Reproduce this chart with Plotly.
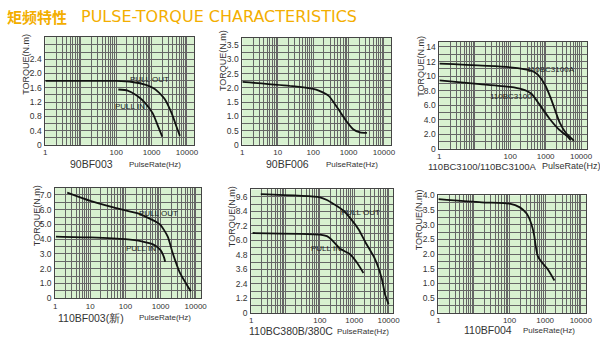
import math
import plotly.graph_objects as go

W, H = 600, 345

# ---------------- data ----------------
p1_out_x = [1, 100, 285, 690, 1260, 2320, 3700, 5000, 6300]
p1_out_y = [1.79, 1.79, 1.76, 1.68, 1.56, 1.29, 0.88, 0.52, 0.25]
p1_in_x = [115, 212, 382, 690, 1080, 1470, 2000]
p1_in_y = [1.55, 1.52, 1.38, 1.15, 0.88, 0.56, 0.23]

p2_x = [1, 26, 100, 144, 275, 490, 870, 1350, 2100, 3300]
p2_y = [2.21, 2.06, 1.96, 1.90, 1.72, 1.29, 0.83, 0.55, 0.44, 0.42]

p3_a_x = [1, 100, 390, 600, 930, 1360, 1850, 2500, 3700, 6300]
p3_a_y = [11.7, 11.2, 10.75, 10.2, 8.9, 7.1, 5.3, 3.6, 2.2, 1.1]
p3_b_x = [1, 14, 100, 210, 390, 690, 1260, 2320, 4300, 5000]
p3_b_y = [9.4, 8.9, 8.5, 8.2, 7.6, 6.0, 4.2, 2.7, 1.6, 1.2]

p4_out_x = [2.2, 10, 100, 215, 400, 740, 1000, 1600, 2200, 3500, 5700, 7200]
p4_out_y = [7.16, 6.6, 5.95, 5.77, 5.5, 5.18, 4.96, 4.18, 3.08, 1.76, 0.88, 0.48]
p4_in_x = [1.05, 10, 100, 290, 630, 1000, 1260, 1350]
p4_in_y = [4.18, 4.12, 4.0, 3.85, 3.63, 3.26, 2.75, 2.47]

p5_out_x = [1.9, 100, 160, 250, 470, 850, 1360, 2150, 4000, 6300, 7900, 10000]
p5_out_y = [9.81, 9.55, 9.33, 9.0, 8.48, 7.67, 6.87, 5.8, 4.47, 2.86, 1.52, 0.72]
p5_in_x = [1.1, 100, 160, 215, 400, 740, 1170, 1850]
p5_in_y = [6.6, 6.47, 6.34, 6.07, 5.27, 4.87, 4.2, 3.3]

p6_x = [1, 16.5, 100, 195, 305, 405, 490, 535, 620, 790, 1170, 1820]
p6_y = [3.87, 3.76, 3.72, 3.59, 3.37, 3.04, 2.65, 2.32, 1.93, 1.73, 1.49, 1.1]

# axis tick labels
p1_yticks = ["0", "0.4", "0.8", "1.2", "1.6", "2.0", "2.4"]
p2_yticks = ["0", "0.5", "1.0", "1.5", "2.0", "2.5", "3.0", "3.5"]
p3_yticks = ["0", "2.0", "4.0", "6.0", "8.0", "10", "12", "14"]
p4_yticks = ["0", "1.0", "2.0", "3.0", "4.0", "5.0", "6.0", "7.0"]
p5_yticks = ["0", "1.2", "2.4", "3.6", "4.8", "6.0", "7.2", "8.4", "9.6"]
p6_yticks = ["0", "0.5", "1.0", "1.5", "2.0", "2.5", "3.0", "3.5", "4.0"]
xt_a = ["1", "100", "1000", "10000"]
xt_b = ["1", "10", "100", "1000", "10000"]

titles = ["90BF003", "90BF006", "110BC3100/110BC3100A",
          "110BF003(新)", "110BC380B/380C", "110BF004"]

# ---------------- layout helpers ----------------
BG = "#d8f1d0"
GRID = "#666666"
TXT = "#333333"
FONT = "Arial, Liberation Sans, sans-serif"

# panels: (left, right, top, bottom) px, y max, y labels, grid lines per label, log x max, x labels
panels = [
    (44, 195, 33, 144, 3.02, p1_yticks, 2, 4.2, xt_a),
    (244, 395, 34, 144, 3.75, p2_yticks, 2, 4.2, xt_b),
    (444, 594, 38, 148, 14.7, p3_yticks, 2, 4.17, xt_a),
    (54, 202, 188, 302, 7.5, p4_yticks, 2, 4.15, xt_b),
    (253, 397, 190, 317, 10.2, p5_yticks, 2, 4.13, xt_a),
    (443, 593, 196, 317, 4.0, p6_yticks, 2, 4.15, xt_a),
]
# y-axis title centres (px)
ytitle_pos = [(25, 61), (225, 57), (426, 63), (35, 217), (233, 218), (423, 221)]

fig = go.Figure()
layout = dict(width=W, height=H, margin=dict(l=0, r=0, t=0, b=0),
              paper_bgcolor="white", plot_bgcolor=BG, showlegend=False,
              font=dict(family=FONT, color=TXT))
annotations = []

for i, (l, r, t, b, ymax, ylabels, sub, xmax, xlabels) in enumerate(panels):
    n = i + 1
    xa = "xaxis" if n == 1 else f"xaxis{n}"
    ya = "yaxis" if n == 1 else f"yaxis{n}"
    xr = "x" if n == 1 else f"x{n}"
    yr = "y" if n == 1 else f"y{n}"
    xv, xtxt = [], []
    for k in range(0, 5):
        for m in range(1, 10):
            v = m * 10 ** k
            if v > 10 ** xmax:
                break
            xv.append(v)
            xtxt.append(str(v) if (m == 1 and str(v) in xlabels) else "")
    step = float(ylabels[1])
    yv, ytxt = [], []
    nlab = len(ylabels)
    j = 0
    while True:
        v = round(j * step / sub, 6)
        if v > ymax + 1e-9:
            break
        yv.append(v)
        ytxt.append(ylabels[j // sub] if (j % sub == 0 and j // sub < nlab) else "")
        j += 1
    layout[xa] = dict(type="log", range=[0, xmax],
                      domain=[l / W, r / W], anchor=yr,
                      tickmode="array", tickvals=xv, ticktext=xtxt,
                      showgrid=True, gridcolor=GRID, gridwidth=1,
                      showline=True, linecolor="#444", mirror=True, linewidth=1,
                      ticks="", tickfont=dict(size=8, color=TXT), zeroline=False,
                      ticklabelstandoff=0)
    layout[ya] = dict(range=[0, ymax], domain=[1 - b / H, 1 - t / H], anchor=xr,
                      tickmode="array", tickvals=yv, ticktext=ytxt,
                      showgrid=True, gridcolor=GRID, gridwidth=1,
                      showline=True, linecolor="#444", mirror=True, linewidth=1,
                      ticks="", tickfont=dict(size=8.5, color=TXT), zeroline=False,
                      ticklabelstandoff=1)
    tx, ty = ytitle_pos[i]
    annotations.append(dict(text="TORQUE(N.m)", x=tx / W, y=1 - ty / H, xref="paper", yref="paper",
                            xanchor="center", yanchor="middle", textangle=-90, showarrow=False,
                            font=dict(size=9, color=TXT)))

series = [
    [(p1_out_x, p1_out_y), (p1_in_x, p1_in_y)],
    [(p2_x, p2_y)],
    [(p3_a_x, p3_a_y), (p3_b_x, p3_b_y)],
    [(p4_out_x, p4_out_y), (p4_in_x, p4_in_y)],
    [(p5_out_x, p5_out_y), (p5_in_x, p5_in_y)],
    [(p6_x, p6_y)],
]
for i, ser in enumerate(series):
    n = i + 1
    xr = "x" if n == 1 else f"x{n}"
    yr = "y" if n == 1 else f"y{n}"
    for xs, ys in ser:
        fig.add_trace(go.Scatter(x=xs, y=ys, xaxis=xr, yaxis=yr, mode="lines",
                                 line=dict(color="#111", width=1.8, shape="spline", smoothing=0.6),
                                 hoverinfo="skip"))

curve_labels = [
    (1, "PULL OUT", 870, 1.82), (1, "PULL IN", 245, 1.06),
    (3, "110BC3100A", 1400, 10.9), (3, "110BC3100", 107, 7.2),
    (4, "PULL OUT", 850, 5.73), (4, "PULL IN", 280, 3.35),
    (5, "PULL OUT", 1480, 8.3), (5, "PULL IN", 150, 5.3),
]
for n, txt, x, y in curve_labels:
    xr = "x" if n == 1 else f"x{n}"
    yr = "y" if n == 1 else f"y{n}"
    annotations.append(dict(text=txt, x=math.log10(x), y=y, xref=xr, yref=yr,
                            xanchor="center", yanchor="middle",
                            showarrow=False, font=dict(size=8, color="#222")))

caps = [(91, 164, 0, 10.5), (290, 164, 1, 10.5), (488, 166, 2, 9.5),
        (90, 322, 3, 10.5), (293, 336, 4, 10.5), (493, 335, 5, 10.5)]
rates = [(155, 164, "center", 8), (355, 164, "center", 8), (546, 166, "left", 9),
         (165, 322, "center", 8), (366, 336, "center", 8), (555, 335, "center", 8)]
for (cx, cy, k, cs), (rx, ry, ra, rs) in zip(caps, rates):
    annotations.append(dict(text=titles[k], x=cx / W, y=1 - cy / H, xref="paper", yref="paper",
                            xanchor="center", yanchor="middle",
                            showarrow=False, font=dict(size=cs, color=TXT)))
    annotations.append(dict(text="PulseRate(Hz)", x=rx / W, y=1 - ry / H, xref="paper", yref="paper",
                            xanchor=ra, yanchor="middle",
                            showarrow=False, font=dict(size=rs, color=TXT)))

annotations.append(dict(text="<b>矩频特性</b>", x=3 / W, y=1 - 12 / H, xref="paper", yref="paper",
                        xanchor="left", yanchor="middle", showarrow=False,
                        font=dict(size=15, color="#f3ae00", family="Noto Sans CJK SC")))
annotations.append(dict(text="PULSE-TORQUE CHARACTERISTICS", x=78 / W, y=1 - 12 / H,
                        xref="paper", yref="paper", xanchor="left", yanchor="middle", showarrow=False,
                        font=dict(size=16, color="#f3ae00", family="DejaVu Sans")))

layout["annotations"] = annotations
fig.update_layout(**layout)
fig.write_html("out.html")
